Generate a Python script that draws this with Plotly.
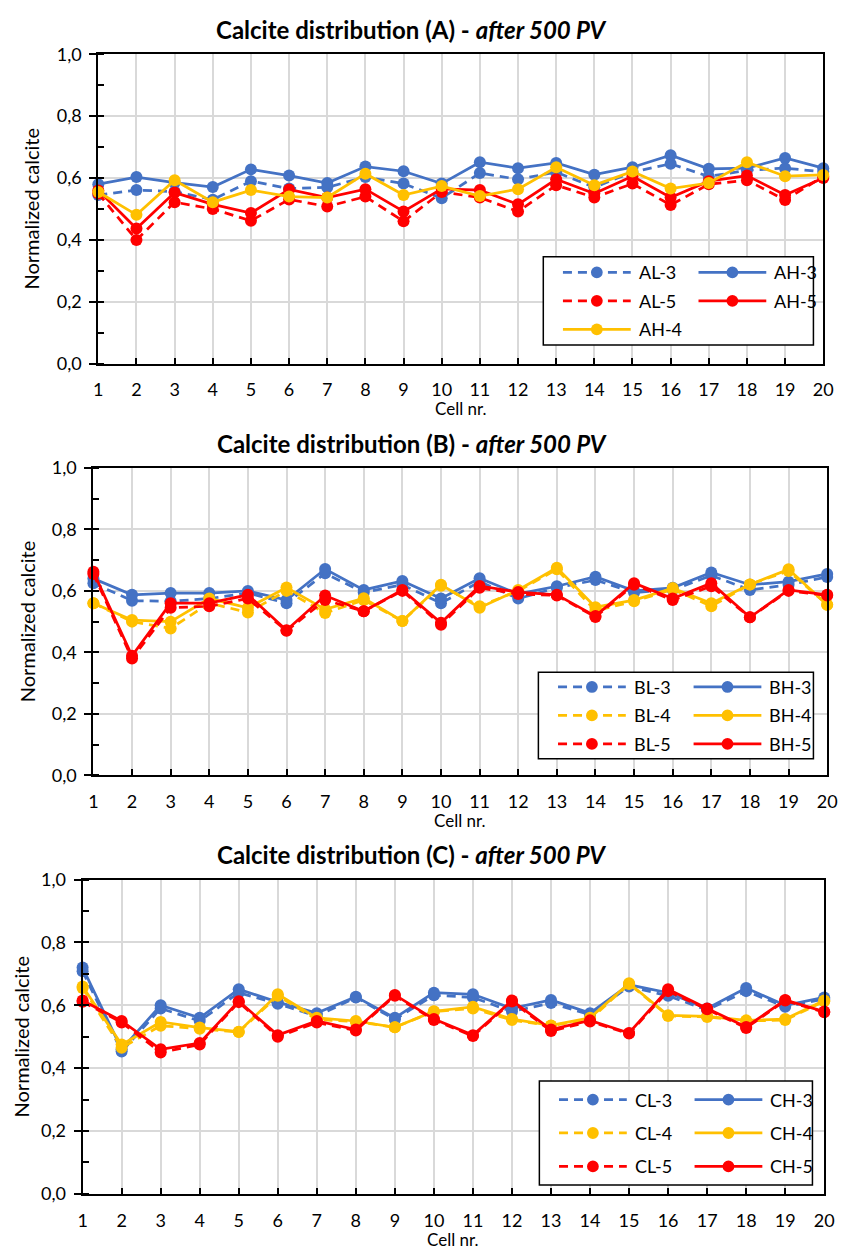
import plotly.graph_objects as go

W, H = 847, 1255

cells = list(range(1, 21))

# ---- panel A ----
AL3 = [0.545, 0.561, 0.556, 0.530, 0.590, 0.566, 0.570, 0.603, 0.582, 0.535,
       0.616, 0.596, 0.619, 0.570, 0.619, 0.646, 0.605, 0.625, 0.632, 0.620]
AH3 = [0.580, 0.603, 0.585, 0.571, 0.628, 0.608, 0.584, 0.637, 0.622, 0.582,
       0.651, 0.632, 0.649, 0.611, 0.635, 0.674, 0.630, 0.632, 0.665, 0.632]
AL5 = [0.550, 0.400, 0.522, 0.500, 0.462, 0.531, 0.508, 0.540, 0.460, 0.555,
       0.537, 0.492, 0.577, 0.537, 0.582, 0.513, 0.580, 0.593, 0.529, 0.605]
AH5 = [0.560, 0.437, 0.553, 0.515, 0.487, 0.563, 0.537, 0.564, 0.492, 0.565,
       0.561, 0.515, 0.596, 0.550, 0.606, 0.537, 0.590, 0.608, 0.545, 0.600]
AH4 = [0.555, 0.481, 0.593, 0.522, 0.561, 0.540, 0.537, 0.614, 0.545, 0.574,
       0.542, 0.564, 0.635, 0.577, 0.621, 0.566, 0.584, 0.651, 0.606, 0.610]

# ---- panel B ----
BL3 = [0.625, 0.568, 0.566, 0.575, 0.593, 0.560, 0.657, 0.595, 0.620, 0.560,
       0.630, 0.575, 0.610, 0.635, 0.595, 0.603, 0.650, 0.603, 0.620, 0.645]
BH3 = [0.640, 0.587, 0.593, 0.593, 0.600, 0.570, 0.671, 0.603, 0.632, 0.575,
       0.641, 0.590, 0.615, 0.646, 0.600, 0.610, 0.660, 0.620, 0.630, 0.655]
BL4 = [0.560, 0.500, 0.478, 0.560, 0.530, 0.600, 0.528, 0.570, 0.502, 0.617,
       0.550, 0.600, 0.670, 0.535, 0.566, 0.605, 0.550, 0.621, 0.665, 0.555]
BH4 = [0.560, 0.505, 0.500, 0.575, 0.545, 0.611, 0.540, 0.576, 0.502, 0.620,
       0.545, 0.603, 0.675, 0.547, 0.570, 0.609, 0.560, 0.621, 0.670, 0.555]
BL5 = [0.655, 0.380, 0.545, 0.550, 0.575, 0.470, 0.570, 0.534, 0.600, 0.490,
       0.610, 0.590, 0.585, 0.515, 0.620, 0.570, 0.615, 0.514, 0.600, 0.585]
BH5 = [0.662, 0.389, 0.560, 0.560, 0.587, 0.472, 0.585, 0.534, 0.603, 0.496,
       0.616, 0.596, 0.587, 0.518, 0.625, 0.575, 0.625, 0.514, 0.603, 0.587]

# ---- panel C ----
CL3 = [0.708, 0.453, 0.590, 0.550, 0.640, 0.605, 0.565, 0.625, 0.555, 0.632,
       0.625, 0.580, 0.607, 0.570, 0.660, 0.630, 0.585, 0.645, 0.595, 0.620]
CH3 = [0.720, 0.460, 0.600, 0.560, 0.651, 0.610, 0.575, 0.627, 0.560, 0.640,
       0.635, 0.590, 0.617, 0.575, 0.665, 0.640, 0.590, 0.655, 0.600, 0.625]
CL4 = [0.655, 0.465, 0.535, 0.525, 0.515, 0.630, 0.555, 0.548, 0.530, 0.580,
       0.590, 0.553, 0.535, 0.555, 0.668, 0.566, 0.563, 0.550, 0.553, 0.613]
CH4 = [0.660, 0.475, 0.547, 0.529, 0.516, 0.635, 0.560, 0.550, 0.530, 0.581,
       0.595, 0.556, 0.536, 0.560, 0.670, 0.568, 0.565, 0.552, 0.556, 0.615]
CL5 = [0.611, 0.545, 0.450, 0.475, 0.610, 0.500, 0.545, 0.520, 0.630, 0.553,
       0.502, 0.612, 0.518, 0.548, 0.510, 0.645, 0.587, 0.528, 0.615, 0.578]
CH5 = [0.615, 0.550, 0.460, 0.480, 0.613, 0.505, 0.550, 0.523, 0.633, 0.556,
       0.505, 0.615, 0.523, 0.552, 0.512, 0.651, 0.590, 0.531, 0.617, 0.580]

BLUE, RED, YELLOW = "#4472C4", "#FF0000", "#FFC000"
FONT = "Lato"
DASH = "9px,6px"

# series: (name, values, colour, dashed)
panels = [
    dict(letter="A", box=(95, 833, 43, 358), title_y=18, ytitle_x=26,
         legend=(548, 823, 249, 339), rows=29,
         series=[("AL-3", AL3, BLUE, True), ("AH-3", AH3, BLUE, False),
                 ("AL-5", AL5, RED, True), ("AH-5", AH5, RED, False),
                 ("AH-4", AH4, YELLOW, False)]),
    dict(letter="B", box=(90, 837, 464, 777), title_y=439, ytitle_x=22,
         legend=(543, 823, 672, 760), rows=29,
         series=[("BL-3", BL3, BLUE, True), ("BH-3", BH3, BLUE, False),
                 ("BL-4", BL4, YELLOW, True), ("BH-4", BH4, YELLOW, False),
                 ("BL-5", BL5, RED, True), ("BH-5", BH5, RED, False)]),
    dict(letter="C", box=(79, 834, 883, 1203), title_y=858, ytitle_x=16,
         legend=(544, 822, 1088, 1194), rows=34,
         series=[("CL-3", CL3, BLUE, True), ("CH-3", CH3, BLUE, False),
                 ("CL-4", CL4, YELLOW, True), ("CH-4", CH4, YELLOW, False),
                 ("CL-5", CL5, RED, True), ("CH-5", CH5, RED, False)]),
]


def px_x(x):
    return x / W


def px_y(y):
    return 1 - y / H


fig = go.Figure()
shapes, annotations = [], []
layout_axes = {}

for i, p in enumerate(panels):
    n = "" if i == 0 else str(i + 1)
    x0, x1, y0, y1 = p["box"]
    for name, vals, col, dashed in p["series"]:
        fig.add_trace(go.Scatter(
            x=cells, y=vals, name=name, mode="lines+markers",
            xaxis="x" + n, yaxis="y" + n, cliponaxis=False, showlegend=False,
            line=dict(color=col, width=2.75, dash=DASH if dashed else "solid"),
            marker=dict(color=col, size=12, symbol="circle"),
        ))

    layout_axes["xaxis" + n] = dict(
        domain=[px_x(x0), px_x(x1)], anchor="y" + n, range=[1, 20],
        tickmode="linear", tick0=1, dtick=1, ticks="inside", ticklen=6,
        tickwidth=1.5, tickcolor="#000", showgrid=True, gridcolor="#D9D9D9",
        gridwidth=1.5, showline=True, linecolor="#000", linewidth=2,
        mirror=True, zeroline=False, ticklabelstandoff=9,
        tickfont=dict(family=FONT, size=18, color="#000"),
    )
    layout_axes["yaxis" + n] = dict(
        domain=[px_y(y1), px_y(y0)], anchor="x" + n, range=[0, 1],
        tickmode="linear", tick0=0, dtick=0.2, tickformat=".1f",
        ticks="outside", ticklen=7, tickwidth=1.5, tickcolor="#000",
        minor=dict(dtick=0.1, ticks="inside", ticklen=6, tickwidth=1.5,
                   tickcolor="#000", showgrid=False),
        showgrid=True, gridcolor="#D9D9D9", gridwidth=1.5,
        showline=True, linecolor="#000", linewidth=2, mirror=True,
        zeroline=False, ticklabelstandoff=4,
        tickfont=dict(family=FONT, size=18, color="#000"),
    )

    # panel title
    annotations.append(dict(
        xref="paper", yref="paper", x=px_x(414), y=px_y(p["title_y"]),
        xanchor="center", yanchor="middle", showarrow=False,
        text=f"<b>Calcite distribution ({p['letter']}) - <i>after 500 PV</i></b>",
        font=dict(family=FONT, size=24, color="#000"),
    ))
    # axis titles
    annotations.append(dict(
        xref="paper", yref="paper", x=px_x(p["ytitle_x"]),
        y=px_y((y0 + y1) / 2), textangle=-90, showarrow=False,
        xanchor="center", yanchor="middle", text="Normalized calcite",
        font=dict(family=FONT, size=20, color="#000"),
    ))
    annotations.append(dict(
        xref="paper", yref="paper", x=px_x((x0 + x1) / 2), y=px_y(y1 + 46),
        showarrow=False, xanchor="center", yanchor="middle", text="Cell nr.",
        font=dict(family=FONT, size=17, color="#000"),
    ))

    # legend box drawn from the series list
    lx0, lx1, ly0, ly1 = p["legend"]
    shapes.append(dict(type="rect", xref="paper", yref="paper",
                       x0=px_x(lx0), x1=px_x(lx1), y0=px_y(ly1), y1=px_y(ly0),
                       line=dict(color="#000", width=1.5), fillcolor="white",
                       layer="above"))
    row_h = p["rows"]
    top = ly0 + (ly1 - ly0 - row_h * 2) / 2
    for k, (name, vals, col, dashed) in enumerate(p["series"]):
        r, c = divmod(k, 2)
        cy = top + r * row_h
        cx = lx0 + 20 + c * 138
        shapes.append(dict(type="line", xref="paper", yref="paper",
                           x0=px_x(cx), x1=px_x(cx + 69), y0=px_y(cy), y1=px_y(cy),
                           line=dict(color=col, width=2.75,
                                     dash=DASH if dashed else "solid"),
                           layer="above"))
        m = cx + 34.5
        shapes.append(dict(type="circle", xref="paper", yref="paper",
                           x0=px_x(m - 6), x1=px_x(m + 6),
                           y0=px_y(cy + 6), y1=px_y(cy - 6),
                           fillcolor=col, line=dict(color=col, width=0),
                           layer="above"))
        annotations.append(dict(
            xref="paper", yref="paper", x=px_x(cx + 75), y=px_y(cy),
            xanchor="left", yanchor="middle", showarrow=False, text=name,
            font=dict(family=FONT, size=18, color="#000"),
        ))

fig.update_layout(
    width=W, height=H, margin=dict(l=0, r=0, t=0, b=0),
    paper_bgcolor="white", plot_bgcolor="white", separators=",.",
    showlegend=False, shapes=shapes, annotations=annotations,
    **layout_axes,
)

fig.write_html("out.html")
